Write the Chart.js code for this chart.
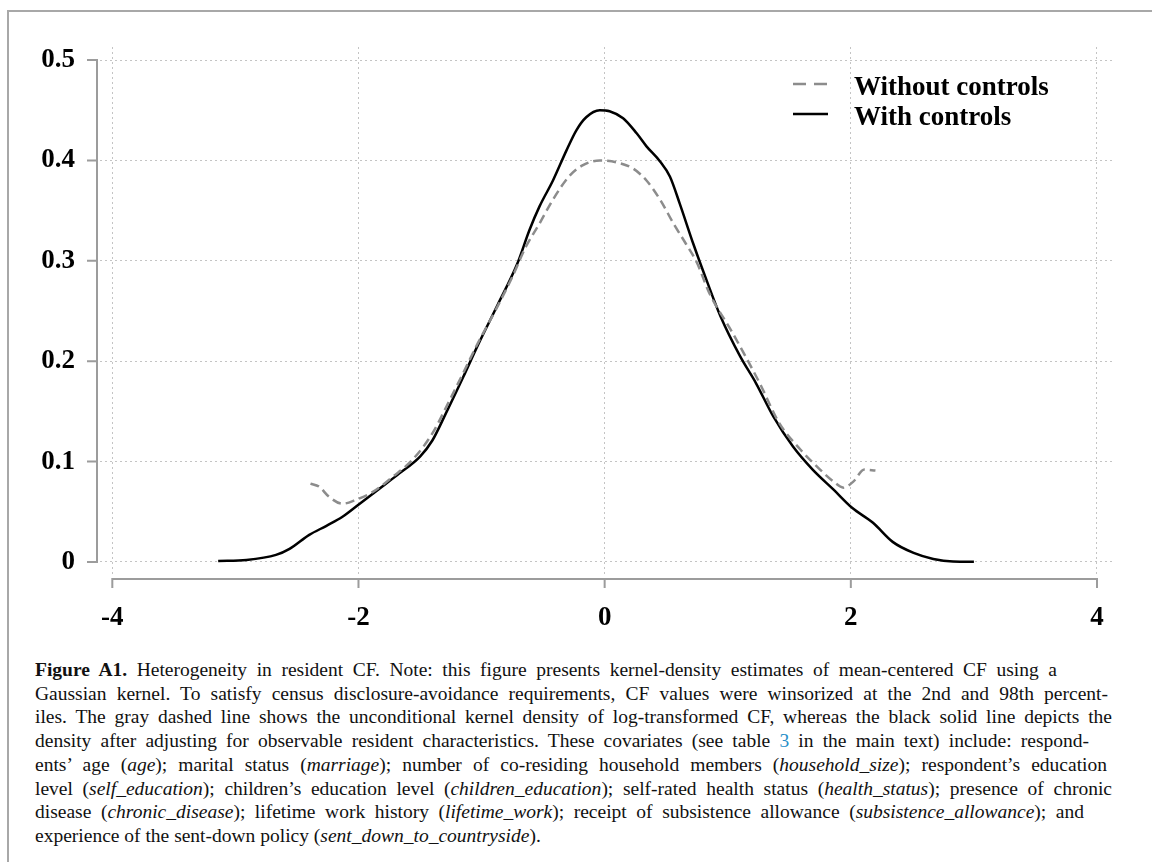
<!DOCTYPE html>
<html>
<head>
<meta charset="utf-8">
<script src="https://cdn.jsdelivr.net/npm/chart.js@4.4.1/dist/chart.umd.min.js"></script>
<style>
    html, body { margin: 0; padding: 0; background: #fff; }
    body { width: 1152px; height: 868px; position: relative; overflow: hidden; }
    #frame {
        position: absolute; left: 7px; top: 10px; width: 1200px; height: 850px;
        border-left: 2px solid #a8a8a8; border-top: 2px solid #a8a8a8;
    }
    #wrap { position: absolute; left: 0; top: 0; width: 1152px; height: 650px; }
    #caption {
        position: absolute; left: 35px; top: 658px;
        font-family: "Liberation Serif", "Times New Roman", serif;
        font-size: 19.5px; line-height: 23.7px; color: #111;
        white-space: nowrap;
    }
    #caption .ln { text-align: justify; text-align-last: justify; white-space: normal; }
    #caption .ref { color: #2a8fc9; }
</style>
</head>
<body>
<div id="frame"></div>
<div id="wrap"><canvas id="c" width="1152" height="650"></canvas></div>
<div id="caption">
<div class="ln" style="width:1022px"><b>Figure A1.</b> Heterogeneity in resident CF. Note: this figure presents kernel-density estimates of mean-centered CF using a</div>
<div class="ln" style="width:1073px">Gaussian kernel. To satisfy census disclosure-avoidance requirements, CF values were winsorized at the 2nd and 98th percent-</div>
<div class="ln" style="width:1077px">iles. The gray dashed line shows the unconditional kernel density of log-transformed CF, whereas the black solid line depicts the</div>
<div class="ln" style="width:1054px">density after adjusting for observable resident characteristics. These covariates (see table <span class="ref">3</span> in the main text) include: respond-</div>
<div class="ln" style="width:1072px">ents’ age (<i>age</i>); marital status (<i>marriage</i>); number of co-residing household members (<i>household_size</i>); respondent’s education</div>
<div class="ln" style="width:1077px">level (<i>self_education</i>); children’s education level (<i>children_education</i>); self-rated health status (<i>health_status</i>); presence of chronic</div>
<div class="ln" style="width:1049px">disease (<i>chronic_disease</i>); lifetime work history (<i>lifetime_work</i>); receipt of subsistence allowance (<i>subsistence_allowance</i>); and</div>
<div>experience of the sent-down policy (<i>sent_down_to_countryside</i>).</div>
</div>
<script>
// kernel densities (mean-centered CF)
const withoutLabel = "Without controls";
const withoutX = [-2.39, -2.32, -2.24, -2.13, -2.02, -1.88, -1.72, -1.56, -1.40, -1.26, -1.15, -1.03, -0.89,
    -0.75, -0.64, -0.53, -0.42, -0.29, -0.18, -0.04, 0.10, 0.23, 0.34, 0.45, 0.56, 0.66, 0.75, 0.85,
    1.04, 1.26, 1.42, 1.59, 1.75, 1.86, 1.94, 2.02, 2.11, 2.20];
const withoutY = [0.078, 0.075, 0.065, 0.058, 0.062, 0.070, 0.085, 0.102, 0.128, 0.161, 0.188, 0.218, 0.250,
    0.284, 0.314, 0.337, 0.361, 0.384, 0.395, 0.400, 0.398, 0.392, 0.380, 0.361, 0.337, 0.317, 0.298, 0.268,
    0.228, 0.178, 0.138, 0.112, 0.092, 0.080, 0.074, 0.080, 0.092, 0.091];

const withLabel = "With controls";
const withX = [-3.14, -2.91, -2.67, -2.56, -2.40, -2.26, -2.13, -1.99, -1.83, -1.67, -1.50, -1.40, -1.29, -1.15,
    -1.03, -0.87, -0.71, -0.61, -0.53, -0.42, -0.31, -0.23, -0.15, -0.04, 0.04, 0.15, 0.26, 0.34, 0.45,
    0.53, 0.61, 0.72, 0.83, 0.94, 1.10, 1.23, 1.37, 1.53, 1.69, 1.86, 2.01, 2.18, 2.34, 2.51, 2.67, 2.83, 3.00];
const withY = [0.001, 0.002, 0.007, 0.013, 0.027, 0.036, 0.045, 0.058, 0.073, 0.088, 0.105, 0.121, 0.148, 0.184,
    0.216, 0.256, 0.297, 0.331, 0.354, 0.380, 0.410, 0.430, 0.443, 0.450, 0.449, 0.442, 0.427, 0.414, 0.399,
    0.384, 0.357, 0.317, 0.280, 0.245, 0.205, 0.178, 0.145, 0.115, 0.092, 0.072, 0.054, 0.039, 0.020, 0.009,
    0.003, 0.0005, 0.0003];

const xTicks = [-4, -2, 0, 2, 4];
const xTickLabels = ["-4", "-2", "0", "2", "4"];
const yTicks = [0, 0.1, 0.2, 0.3, 0.4, 0.5];
const yTickLabels = ["0", "0.1", "0.2", "0.3", "0.4", "0.5"];

const AXIS_GRAY = "#9c9c9c";
const GRID_GRAY = "#c4c4c4";
const SERIF = "'Liberation Serif', 'Times New Roman', serif";

function toPoints(xs, ys) {
    return xs.map((x, i) => ({ x, y: ys[i] }));
}

// Stata-like axes: detached from the plot region, only spanning the tick range
const detachedAxes = {
    id: "detachedAxes",
    afterDraw(chart) {
        const { ctx, chartArea, scales: { x, y } } = chart;
        const ax = chartArea.left - 3;
        const ay = chartArea.bottom + 4;
        ctx.save();
        ctx.strokeStyle = AXIS_GRAY;
        ctx.lineWidth = 2;
        ctx.beginPath();
        ctx.moveTo(ax, y.getPixelForValue(yTicks[0]));
        ctx.lineTo(ax, y.getPixelForValue(yTicks[yTicks.length - 1]));
        for (const v of yTicks) {
            const py = y.getPixelForValue(v);
            ctx.moveTo(ax - 10, py);
            ctx.lineTo(ax + 1, py);
        }
        ctx.moveTo(x.getPixelForValue(xTicks[0]), ay);
        ctx.lineTo(x.getPixelForValue(xTicks[xTicks.length - 1]), ay);
        for (const v of xTicks) {
            const px = x.getPixelForValue(v);
            ctx.moveTo(px, ay - 1);
            ctx.lineTo(px, ay + 9);
        }
        ctx.stroke();
        ctx.restore();
    }
};

// legend in the upper right, line key on the left of the label
const keyLegend = {
    id: "keyLegend",
    afterDraw(chart, args, opts) {
        const { ctx } = chart;
        ctx.save();
        ctx.font = "bold 27px " + SERIF;
        ctx.textBaseline = "alphabetic";
        chart.data.datasets.forEach((ds, i) => {
            const ly = opts.top + i * opts.gap;
            ctx.strokeStyle = ds.borderColor;
            ctx.lineWidth = ds.borderWidth;
            ctx.setLineDash(ds.borderDash ? opts.keyDash : []);
            ctx.beginPath();
            ctx.moveTo(opts.left, ly);
            ctx.lineTo(opts.left + opts.keyWidth, ly);
            ctx.stroke();
            ctx.setLineDash([]);
            ctx.fillStyle = "#000";
            ctx.fillText(ds.label, opts.textLeft, ly + opts.textDrop);
        });
        ctx.restore();
    }
};

const chart = new Chart(document.getElementById("c"), {
    type: "line",
    data: {
        datasets: [
            {
                label: withoutLabel,
                data: toPoints(withoutX, withoutY),
                borderColor: "#8c8c8c",
                borderWidth: 2.5,
                borderDash: [9, 5],
                pointRadius: 0,
                cubicInterpolationMode: "monotone",
                fill: false
            },
            {
                label: withLabel,
                data: toPoints(withX, withY),
                borderColor: "#000000",
                borderWidth: 2.5,
                pointRadius: 0,
                cubicInterpolationMode: "monotone",
                fill: false
            }
        ]
    },
    options: {
        responsive: false,
        animation: false,
        layout: { padding: { left: 8, top: 47, right: 39, bottom: 0 } },
        plugins: {
            legend: { display: false },
            tooltip: { enabled: false },
            keyLegend: { left: 793, keyWidth: 35, keyDash: [13, 8], textLeft: 854, top: 84, gap: 30, textDrop: 11 }
        },
        scales: {
            x: {
                type: "linear",
                min: -4.1,
                max: 4.13,
                afterBuildTicks: s => { s.ticks = xTicks.map(v => ({ value: v })); },
                afterFit: s => { s.height = 75; },
                grid: { color: GRID_GRAY, lineWidth: 1, drawTicks: false },
                border: { display: false, dash: [2, 3] },
                ticks: {
                    padding: 27,
                    color: "#000",
                    font: { family: SERIF, size: 27, weight: "bold" },
                    callback: (v, i) => xTickLabels[i]
                }
            },
            y: {
                type: "linear",
                min: -0.013,
                max: 0.513,
                afterBuildTicks: s => { s.ticks = yTicks.map(v => ({ value: v })); },
                afterFit: s => { s.width = 92; },
                grid: { color: GRID_GRAY, lineWidth: 1, drawTicks: false },
                border: { display: false, dash: [2, 3] },
                ticks: {
                    padding: 25,
                    color: "#000",
                    font: { family: SERIF, size: 27, weight: "bold" },
                    callback: (v, i) => yTickLabels[i]
                }
            }
        }
    },
    plugins: [detachedAxes, keyLegend]
});
</script>
</body>
</html>
